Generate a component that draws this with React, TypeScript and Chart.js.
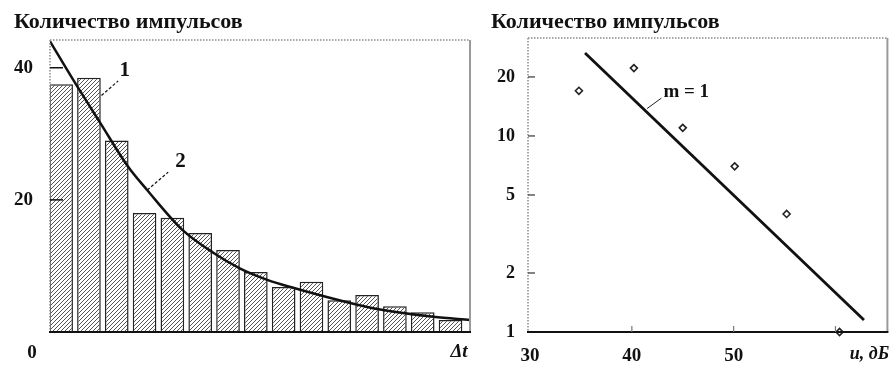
import React, { useEffect, useRef } from "react";
import { Chart, registerables } from "chart.js";

Chart.register(...registerables);

// ---------- shared text ----------
const chartTitle = "Количество импульсов";

// ---------- left chart: histogram of pulse counts vs Δt ----------
const binIndex = [1, 2, 3, 4, 5, 6, 7, 8, 9, 10, 11, 12, 13, 14, 15];
const binCounts = [37.5, 38.5, 29, 18, 17.3, 15, 12.4, 9.1, 6.8, 7.6, 4.8, 5.6, 3.9, 3.0, 1.8];
const curveX = [0.6, 1.43, 2.4, 3.41, 4.09, 5.35, 6.47, 7.44, 8.41, 9.34, 11.39, 12.47, 14.38, 15.7];
const curveY = [44, 38.2, 31.7, 25, 21.5, 15.5, 12.0, 9.6, 7.9, 6.7, 4.4, 3.4, 2.3, 1.8];
const leftYTicks = [20, 40];
const leftOriginLabel = "0";
const leftXTitle = "Δt";
const leftLabel1 = "1";
const leftLabel2 = "2";

// ---------- right chart: pulse count vs level (log scale) ----------
const levelDb = [34.8, 40.2, 45.0, 50.1, 55.2, 60.4];
const levelCounts = [17, 22.2, 11, 7.0, 4.0, 1.0];
const fitX = [35.4, 62.8];
const fitY = [26.5, 1.15];
const rightYTicks = [1, 2, 5, 10, 20];
const rightXTicks = [30, 40, 50];
const rightInnerXTicks = [40, 50, 60];
const rightXTitle = "u, дБ";
const rightFitLabel = "m = 1";

const FONT = "'Liberation Serif', 'DejaVu Serif', serif";

function makeHatch(): CanvasPattern | string {
  const c = document.createElement("canvas");
  c.width = 4;
  c.height = 4;
  const g = c.getContext("2d");
  if (!g) return "#ccc";
  g.fillStyle = "#ffffff";
  g.fillRect(0, 0, 4, 4);
  g.strokeStyle = "#555";
  g.lineWidth = 1;
  g.beginPath();
  g.moveTo(-1, 5);
  g.lineTo(5, -1);
  g.moveTo(-1, 1);
  g.lineTo(1, -1);
  g.moveTo(3, 5);
  g.lineTo(5, 3);
  g.stroke();
  const p = g.createPattern(c, "repeat");
  return p || "#ccc";
}

function drawFrame(ctx: CanvasRenderingContext2D, a: any, leftDotted: boolean) {
  ctx.save();
  ctx.strokeStyle = "#8a8a8a";
  ctx.lineWidth = 1.5;
  ctx.setLineDash([1.5, 1.5]);
  ctx.beginPath();
  ctx.moveTo(a.left, a.top);
  ctx.lineTo(a.right, a.top);
  ctx.stroke();
  if (leftDotted) {
    ctx.beginPath();
    ctx.moveTo(a.left, a.top);
    ctx.lineTo(a.left, a.bottom);
    ctx.stroke();
  }
  ctx.setLineDash([]);
  ctx.strokeStyle = "#9a9a9a";
  ctx.lineWidth = 2;
  ctx.beginPath();
  ctx.moveTo(a.right, a.top);
  ctx.lineTo(a.right, a.bottom);
  ctx.stroke();
  ctx.strokeStyle = "#111";
  ctx.lineWidth = 2;
  ctx.beginPath();
  ctx.moveTo(a.left - 1, a.bottom);
  ctx.lineTo(a.right + 1, a.bottom);
  ctx.stroke();
  ctx.restore();
}

function LeftChart() {
  const ref = useRef<HTMLCanvasElement | null>(null);
  useEffect(() => {
    if (!ref.current) return;
    const hatch = makeHatch();
    const decor = {
      id: "leftDecor",
      afterDraw(chart: any) {
        const ctx = chart.ctx as CanvasRenderingContext2D;
        const a = chart.chartArea;
        const xs = chart.scales.x;
        const ys = chart.scales.y;
        drawFrame(ctx, a, true);
        ctx.save();
        ctx.strokeStyle = "#111";
        ctx.lineWidth = 1.5;
        leftYTicks.forEach((v) => {
          const y = ys.getPixelForValue(v);
          ctx.beginPath();
          ctx.moveTo(a.left, y);
          ctx.lineTo(a.left + 13, y);
          ctx.stroke();
        });
        ctx.fillStyle = "#111";
        ctx.font = `bold 22px ${FONT}`;
        ctx.textAlign = "left";
        ctx.textBaseline = "alphabetic";
        ctx.fillText(chartTitle, 14, 28);
        ctx.font = `bold 19px ${FONT}`;
        ctx.textAlign = "center";
        ctx.textBaseline = "middle";
        ctx.fillText(leftOriginLabel, a.left - 18, a.bottom + 21);
        ctx.font = `italic bold 19px ${FONT}`;
        ctx.fillText(leftXTitle, a.right - 11, a.bottom + 20);
        ctx.font = `bold 21px ${FONT}`;
        ctx.textAlign = "left";
        ctx.fillText(leftLabel1, xs.getPixelForValue(3.1), ys.getPixelForValue(39.6));
        ctx.lineWidth = 1.2;
        ctx.setLineDash([3, 2]);
        ctx.beginPath();
        ctx.moveTo(xs.getPixelForValue(2.45), ys.getPixelForValue(35.8));
        ctx.lineTo(xs.getPixelForValue(3.05), ys.getPixelForValue(38.0));
        ctx.stroke();
        ctx.setLineDash([]);
        ctx.fillText(leftLabel2, xs.getPixelForValue(5.1), ys.getPixelForValue(25.8));
        ctx.setLineDash([3, 2]);
        ctx.beginPath();
        ctx.moveTo(xs.getPixelForValue(4.1), ys.getPixelForValue(21.5));
        ctx.lineTo(xs.getPixelForValue(4.85), ys.getPixelForValue(24.2));
        ctx.stroke();
        ctx.restore();
      },
    };
    const chart = new Chart(ref.current, {
      type: "bar",
      data: {
        datasets: [
          {
            type: "line",
            data: curveX.map((x, i) => ({ x, y: curveY[i] })),
            borderColor: "#111",
            borderWidth: 2.5,
            pointRadius: 0,
            cubicInterpolationMode: "monotone",
            fill: false,
            order: 1,
          } as any,
          {
            type: "bar",
            data: binIndex.map((x, i) => ({ x, y: binCounts[i] })),
            backgroundColor: hatch as any,
            borderColor: "#222",
            borderWidth: 1.5,
            barPercentage: 1,
            categoryPercentage: 0.85,
            order: 2,
          } as any,
        ],
      },
      options: {
        animation: false,
        responsive: false,
        maintainAspectRatio: false,
        layout: { padding: { top: 40, right: 10, left: 0, bottom: 0 } },
        plugins: { legend: { display: false }, tooltip: { enabled: false }, title: { display: false } },
        scales: {
          x: {
            type: "linear",
            min: 0.6,
            max: 15.7,
            offset: false,
            grid: { display: false, drawTicks: false },
            border: { display: false },
            ticks: { display: false },
            afterFit: (s: any) => {
              s.height = 33;
            },
          },
          y: {
            type: "linear",
            min: 0,
            max: 44.2,
            grid: { display: false, drawTicks: false },
            border: { display: false },
            ticks: {
              padding: 17,
              color: "#111",
              font: { family: FONT, size: 19, weight: "bold" },
            },
            afterBuildTicks: (s: any) => {
              s.ticks = leftYTicks.map((v) => ({ value: v }));
            },
            afterFit: (s: any) => {
              s.width = 50;
            },
          },
        },
      } as any,
      plugins: [decor],
    });
    return () => chart.destroy();
  }, []);
  return (
    <canvas
      ref={ref}
      width={480}
      height={365}
      style={{ position: "absolute", left: 0, top: 0, width: 480, height: 365 }}
    />
  );
}

function RightChart() {
  const ref = useRef<HTMLCanvasElement | null>(null);
  useEffect(() => {
    if (!ref.current) return;
    const decor = {
      id: "rightDecor",
      afterDraw(chart: any) {
        const ctx = chart.ctx as CanvasRenderingContext2D;
        const a = chart.chartArea;
        const xs = chart.scales.x;
        const ys = chart.scales.y;
        drawFrame(ctx, a, true);
        ctx.save();
        ctx.strokeStyle = "#333";
        ctx.lineWidth = 1.2;
        rightYTicks.forEach((v) => {
          if (v === 1) return;
          const y = ys.getPixelForValue(v);
          ctx.beginPath();
          ctx.moveTo(a.left, y);
          ctx.lineTo(a.left + 7, y);
          ctx.stroke();
        });
        ctx.strokeStyle = "#777";
        rightInnerXTicks.forEach((v) => {
          const x = xs.getPixelForValue(v);
          ctx.beginPath();
          ctx.moveTo(x, a.bottom);
          ctx.lineTo(x, a.bottom - 6);
          ctx.stroke();
        });
        ctx.fillStyle = "#111";
        ctx.font = `bold 22px ${FONT}`;
        ctx.textAlign = "left";
        ctx.textBaseline = "alphabetic";
        ctx.fillText(chartTitle, 11, 28);
        ctx.font = `italic bold 18px ${FONT}`;
        ctx.textAlign = "center";
        ctx.textBaseline = "middle";
        ctx.fillText(rightXTitle, a.right - 18, a.bottom + 22);
        ctx.font = `bold 19px ${FONT}`;
        ctx.textAlign = "left";
        ctx.fillText(rightFitLabel, xs.getPixelForValue(43.1), ys.getPixelForValue(16.8));
        ctx.lineWidth = 1;
        ctx.strokeStyle = "#222";
        ctx.beginPath();
        ctx.moveTo(xs.getPixelForValue(41.5), ys.getPixelForValue(13.8));
        ctx.lineTo(xs.getPixelForValue(42.9), ys.getPixelForValue(15.6));
        ctx.stroke();
        ctx.restore();
      },
    };
    const chart = new Chart(ref.current, {
      type: "scatter",
      data: {
        datasets: [
          {
            type: "line",
            data: fitX.map((x, i) => ({ x, y: fitY[i] })),
            borderColor: "#111",
            borderWidth: 2.8,
            pointRadius: 0,
            fill: false,
            showLine: true,
            order: 2,
          } as any,
          {
            type: "scatter",
            data: levelDb.map((x, i) => ({ x, y: levelCounts[i] })),
            pointStyle: "rectRot",
            pointRadius: 3.5,
            backgroundColor: "#fff",
            borderColor: "#222",
            borderWidth: 1.6,
            clip: false,
            order: 1,
          } as any,
        ],
      },
      options: {
        animation: false,
        responsive: false,
        maintainAspectRatio: false,
        layout: { padding: { top: 38, right: 5, left: 0, bottom: 0 } },
        plugins: { legend: { display: false }, tooltip: { enabled: false }, title: { display: false } },
        scales: {
          x: {
            type: "linear",
            min: 29.8,
            max: 65.1,
            grid: { display: false, drawTicks: false },
            border: { display: false },
            ticks: {
              padding: 13,
              color: "#111",
              font: { family: FONT, size: 19, weight: "bold" },
            },
            afterBuildTicks: (s: any) => {
              s.ticks = rightXTicks.map((v) => ({ value: v }));
            },
            afterFit: (s: any) => {
              s.height = 33;
            },
          },
          y: {
            type: "logarithmic",
            min: 1,
            max: 31.6,
            grid: { display: false, drawTicks: false },
            border: { display: false },
            ticks: {
              padding: 13,
              color: "#111",
              font: { family: FONT, size: 18, weight: "bold" },
              callback: (v: any) => String(v),
            },
            afterBuildTicks: (s: any) => {
              s.ticks = rightYTicks.map((v) => ({ value: v }));
            },
            afterFit: (s: any) => {
              s.width = 48;
            },
          },
        },
      } as any,
      plugins: [decor],
    });
    return () => chart.destroy();
  }, []);
  return (
    <canvas
      ref={ref}
      width={413}
      height={365}
      style={{ position: "absolute", left: 480, top: 0, width: 413, height: 365 }}
    />
  );
}

export default function App() {
  return (
    <div
      style={{
        position: "fixed",
        left: 0,
        top: 0,
        width: 893,
        height: 365,
        background: "#fff",
        overflow: "hidden",
      }}
    >
      <LeftChart />
      <RightChart />
    </div>
  );
}
